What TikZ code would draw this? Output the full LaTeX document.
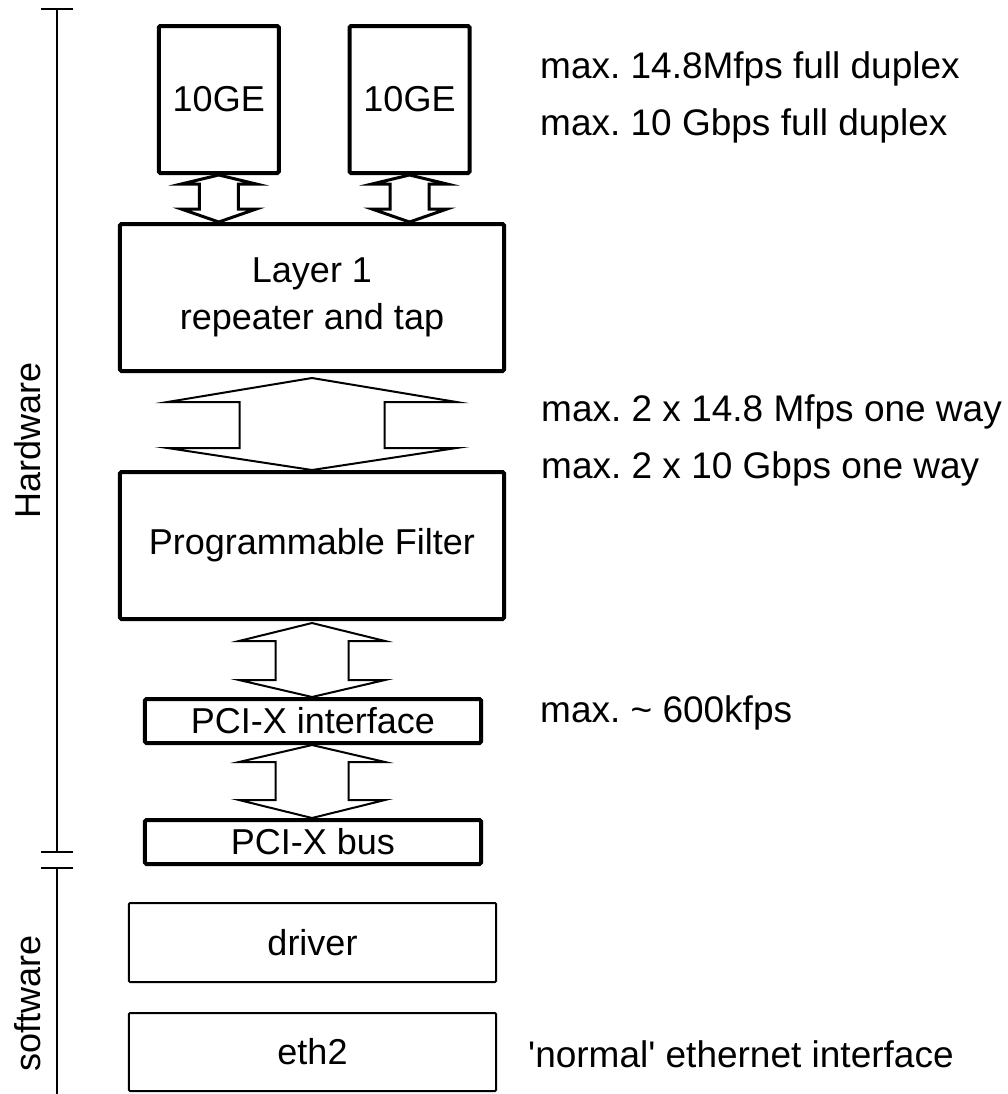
\documentclass[tikz,border=0pt]{standalone}
\usepackage{fontspec}
\setmainfont{Liberation Sans}
\usetikzlibrary{calc}
\frenchspacing
% double-headed block arrow: #1 style, #2 top tip, #3 bottom tip,
% #4 half head width, #5 half shaft width, #6 top head length, #7 bottom head length
\newcommand\dblblockarrow[7]{%
  \draw[#1] let \p1=(#2), \p2=(#3) in
    (\x1,\y1) -- (\x1+#4,\y1-#6) -- (\x1+#5,\y1-#6) -- (\x1+#5,\y2+#7)
    -- (\x1+#4,\y2+#7) -- (\x1,\y2) -- (\x1-#4,\y2+#7) -- (\x1-#5,\y2+#7)
    -- (\x1-#5,\y1-#6) -- (\x1-#4,\y1-#6) -- cycle;}
\begin{document}
\begin{tikzpicture}[x=1bp,y=-1bp,
  every node/.style={font=\fontsize{36bp}{47bp}\selectfont, inner sep=0pt},
  hwbox/.style={draw, line width=4bp, rounded corners=1.5bp, align=center},
  swbox/.style={draw, line width=2bp, rounded corners=1bp, align=center},
  smallarrow/.style={line width=3bp, line join=miter, miter limit=20},
  bigarrow/.style={line width=2bp, line join=miter, miter limit=20},
  note/.style={anchor=base west, font=\fontsize{37bp}{57bp}\selectfont},
  sidelabel/.style={rotate=90},
  bar/.style={line width=2.5bp}]
\useasboundingbox (0,0) rectangle (1008,1094);

% boxes
\node[hwbox, minimum width=120bp, minimum height=147bp] (ge1) at (218.75,99.5) {10GE};
\node[hwbox, minimum width=120bp, minimum height=147bp] (ge2) at (409.5,99.5) {10GE};
\node[hwbox, minimum width=384bp, minimum height=147bp] (layer1) at (312,297.5) {Layer 1\\repeater and tap};
\node[hwbox, minimum width=384bp, minimum height=147bp] (pf) at (312,545.5) {Programmable Filter};
\node[hwbox, minimum width=336bp, minimum height=44bp] (pcii) at (313,721) {PCI-X interface};
\node[hwbox, minimum width=336bp, minimum height=44bp] (pcib) at (313,842) {PCI-X bus};
\node[swbox, minimum width=367bp, minimum height=79bp] (driver) at (312.5,942.5) {driver};
\node[swbox, minimum width=367bp, minimum height=78bp] (eth) at (312.5,1052) {eth2};

% block arrows
\dblblockarrow{smallarrow}{ge1.south}{ge1.south |- layer1.north}{37.5bp}{19.5bp}{9bp}{13bp}
\dblblockarrow{smallarrow}{ge2.south}{ge2.south |- layer1.north}{37.5bp}{19.5bp}{9bp}{13bp}
\dblblockarrow{bigarrow}{[yshift=-5bp]layer1.south}{layer1.south |- pf.north}{144.5bp}{72.5bp}{24bp}{22bp}
\dblblockarrow{bigarrow}{[yshift=-2bp]pf.south}{pf.south |- pcii.north}{73bp}{36.5bp}{18bp}{17bp}
\dblblockarrow{bigarrow}{[xshift=-1bp]pcii.south}{[xshift=-1bp]pcii.south |- pcib.north}{73bp}{36.5bp}{17bp}{18bp}

% notes
\node[note] (n1) at (540,78.5) {max. 14.8Mfps full duplex};
\node[note] (n2) at (540,135.5) {max. 10 Gbps full duplex};
\node[note] (n3) at (541,421) {max. 2 x 14.8 Mfps one way};
\node[note] (n4) at (541,478) {max. 2 x 10 Gbps one way};
\node[note] (n5) at (540,722) {max. \textasciitilde{} 600kfps};
\node[note] (n6) at (528,1067) {\textquotesingle normal\textquotesingle{} ethernet interface};

% side bar
\coordinate (hwtop) at (57,9);
\coordinate (hwbot) at (57,852);
\coordinate (swtop) at (57,868);
\coordinate (swbot) at (57,1094);
\draw[bar] (hwtop) -- (hwbot);
\draw[bar] (swtop) -- (swbot);
\draw[bar] ([xshift=-16bp]hwtop) -- ([xshift=16bp]hwtop);
\draw[bar] ([xshift=-16bp]hwbot) -- ([xshift=16bp]hwbot);
\draw[bar] ([xshift=-16bp]swtop) -- ([xshift=16bp]swtop);
\node[sidelabel] (hw) at (28,440) {Hardware};
\node[sidelabel] (sw) at (28,1003) {software};
\end{tikzpicture}
\end{document}
